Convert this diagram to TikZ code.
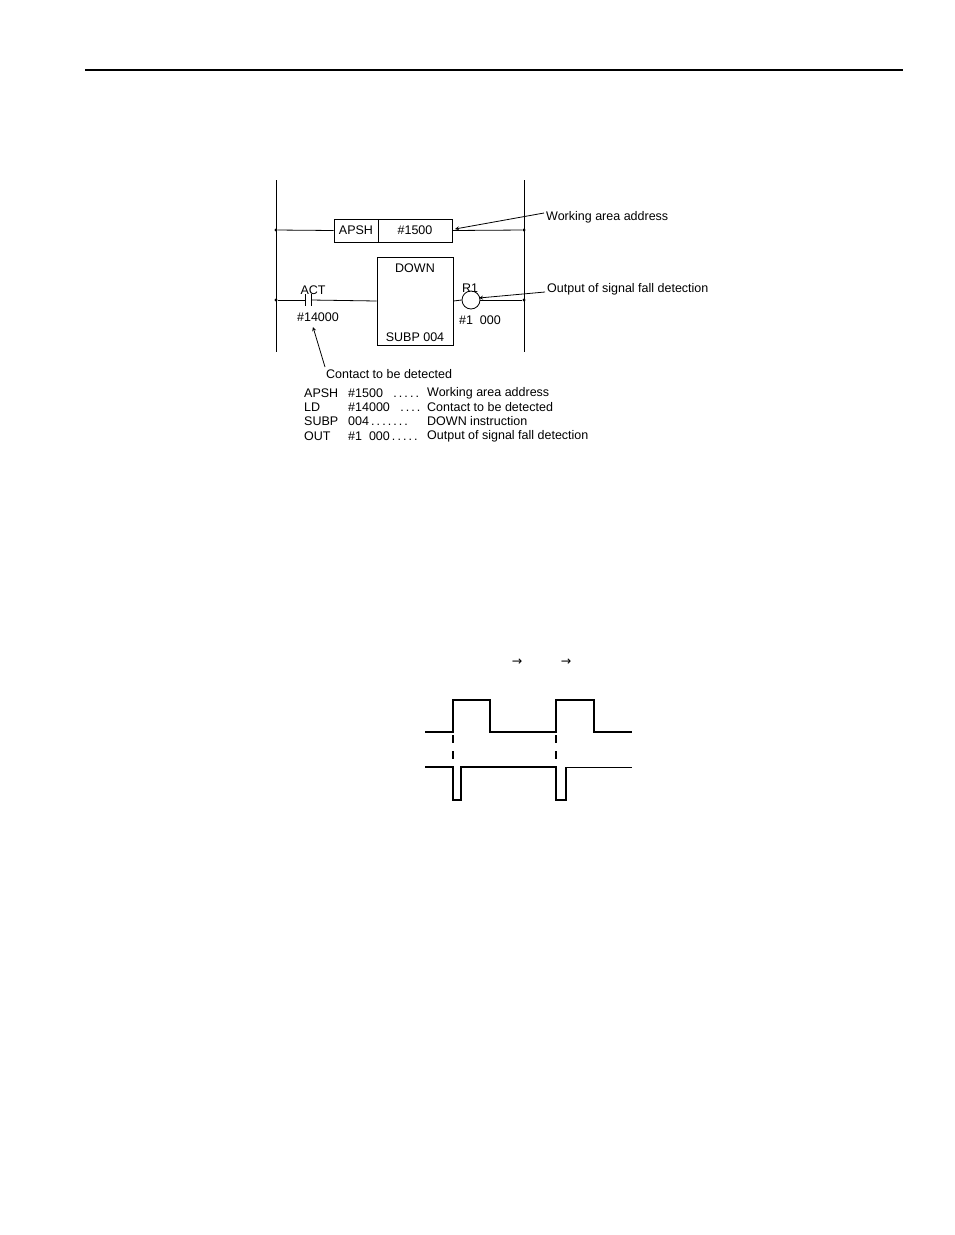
\documentclass[tikz,border=0pt]{standalone}
\usepackage{fontspec}
\setmainfont{Liberation Sans}
\newfontfamily\djv{DejaVu Sans}
\begin{document}
\begin{tikzpicture}[x=1pt,y=-1pt,
  lbl/.style={inner sep=0pt,font=\fontsize{12.5}{14}\selectfont},
  wire/.style={line width=0.8pt},
  wave/.style={line width=1.5pt},
  dot/.style={circle,fill,inner sep=1.2pt}]
\useasboundingbox (0,0) rectangle (954,1235);
\draw[line width=1.5pt] (85,70) -- (903,70);
% rails
\draw[wire] (276,180) -- (276,352);
\draw[wire] (524,180) -- (524,352);
\node[dot] (l1) at (276,230) {}; \node[dot] (r1) at (524,230) {};
\node[dot] (l2) at (276,300) {}; \node[dot] (r2) at (524,300) {};
% rung 1
\node[draw,wire,minimum width=44pt,minimum height=23pt,inner sep=0pt,lbl] (apsh) at (356,230.5) {APSH};
\node[draw,wire,minimum width=74pt,minimum height=23pt,inner sep=0pt,lbl] (num) at (415,230.5) {\#1500};
\draw[wire] (l1) -- (apsh.west);
\draw[wire] (num.east) -- (r1);
\node[lbl,anchor=west] (wa) at (546,217) {Working area address};
\draw[wire,-stealth] (wa.west) ++(-2,-4) coordinate (wa0) -- (455,229);
% rung 2
\node[draw,wire,minimum width=76pt,minimum height=88pt,inner sep=0pt] (down) at (415,301) {};
\node[lbl] (dt) at (415,268) {DOWN};
\node[lbl] (st) at (415,337) {SUBP 004};
\coordinate (ca) at (305,300); \coordinate (cb) at (311,300);
\draw[wire] (l2) -- (ca); \draw[wire] (cb) -- (down.west);
\draw[wire] (305,294) -- (305,306); \draw[wire] (311,294) -- (311,306);
\node[draw,wire,circle,minimum size=18pt,inner sep=0pt] (coil) at (471,300) {};
\draw[wire] (down.east) -- (coil.west);
\draw[wire] (coil.east) -- (r2);
\node[lbl] (act) at (313,290) {ACT};
\node[lbl] (c14) at (318,317) {\#14000};
\node[lbl] (r1l) at (470,288) {R1};
\node[lbl] (c1) at (480,320) {\#1\ \ 000};
\node[lbl,anchor=west] (of) at (547,289) {Output of signal fall detection};
\draw[wire,-stealth] (545,292) -- (479,298);
\node[lbl,anchor=west] (ctd) at (326,374) {Contact to be detected};
\draw[wire,-stealth] (325,367) -- (313,327);
% listing
\foreach \y/\a/\b/\c in {393/APSH/\#1500\ \ \ .\,.\,.\,.\,./Working area address,
  407/LD/\#14000\ \ \ .\,.\,.\,./Contact to be detected,
  421/SUBP/004\,.\,.\,.\,.\,.\,.\,./DOWN instruction,
  436/OUT/\#1\ \ 000\,.\,.\,.\,.\,./Output of signal fall detection}{
  \node[lbl,anchor=west] at (304,\y) {\a};
  \node[lbl,anchor=west] at (348,\y) {\b};
  \node[lbl,anchor=west] at (427,\y) {\c};
}
% waveform
\node[lbl] (ar1) at (517,662) {\djv →};
\node[lbl] (ar2) at (566,662) {\djv →};
\draw[wave] (425,732) -- (453,732) -- (453,700) -- (490,700) -- (490,732) -- (556,732) -- (556,700) -- (594,700) -- (594,732) -- (632,732);
\draw[wave] (425,767) -- (453,767) -- (453,800) -- (461,800) -- (461,767) -- (556,767) -- (556,800) -- (566,800) -- (566,767);
\draw[line width=0.8pt] (566,767) -- (632,767);
\draw[wave,dash pattern=on 8pt off 8pt] (453,735) -- (453,765);
\draw[wave,dash pattern=on 8pt off 8pt] (556,735) -- (556,765);
\end{tikzpicture}
\end{document}
